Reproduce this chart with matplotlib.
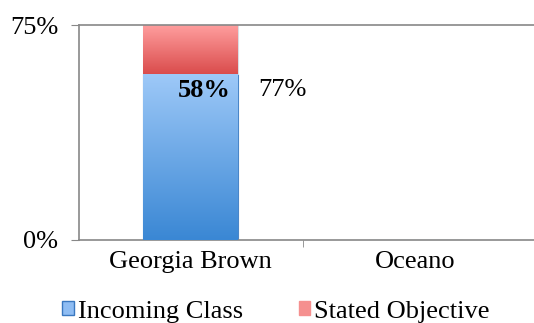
import matplotlib.pyplot as plt
import numpy as np
from matplotlib.colors import LinearSegmentedColormap
from matplotlib.patches import Patch

schools = ["Georgia Brown", "Oceano"]
incoming = [58, 0]
objective = [19, 0]
totals = [77, None]

plt.rcParams['font.family'] = ['Liberation Serif', 'DejaVu Serif']

fig = plt.figure(figsize=(5.34, 3.23), dpi=100)
ax = fig.add_axes([79 / 534, 1 - 240 / 323, 455 / 534, 215 / 323])

x = np.arange(len(schools))
blue_bars = ax.bar(x, incoming, width=0.42, color="#7fb3ee", edgecolor="#4a86c8", linewidth=0.8, zorder=2)
red_bars = ax.bar(x, objective, bottom=incoming, width=0.42, color="#f08080", edgecolor="#d9dde3",
                  linewidth=0.8, zorder=2)

ax.set_xlim(-0.496, 1.527)
ax.set_ylim(0, 75)

# gradients clipped to each bar (and to the axes top)
blue_cmap = LinearSegmentedColormap.from_list("b", ["#3a87d4", "#9ec9f8"])
red_cmap = LinearSegmentedColormap.from_list("r", ["#da4c4c", "#ff9e9e"])
grad = np.linspace(0, 1, 256).reshape(-1, 1)
ytop = ax.get_ylim()[1]
for bars, cmap in [(blue_bars, blue_cmap), (red_bars, red_cmap)]:
    for b in bars:
        if b.get_height() == 0:
            continue
        x0, y0 = b.get_x(), b.get_y()
        y1 = min(y0 + b.get_height(), ytop)
        im = ax.imshow(grad, cmap=cmap, origin="lower", aspect="auto",
                       extent=[x0, x0 + b.get_width(), y0, y1], zorder=3)
        im.set_clip_path(b)
ax.set_xlim(-0.496, 1.527)
ax.set_ylim(0, 75)

ax.set_yticks([0, 75])
ax.set_yticklabels(["0%", "75%"], fontsize=19)
ax.set_xticks(x)
ax.set_xticklabels(schools, fontsize=19)
ax.set_xticks([0.5], minor=True)
ax.tick_params(axis="x", which="major", length=0, pad=8)
ax.tick_params(axis="x", which="minor", length=5, color="#888888")
ax.tick_params(axis="y", length=6, color="#888888", pad=9)

for side in ["top", "right"]:
    ax.spines[side].set_visible(False)
for side in ["left", "bottom"]:
    ax.spines[side].set_color("#888888")
    ax.spines[side].set_linewidth(1.2)
ax.axhline(75, color="#888888", linewidth=1.2, clip_on=False, zorder=4)

# labels
ax.text(0.18, incoming[0] - 1.8, f"{incoming[0]}%", ha="right", va="top", fontsize=19,
        fontweight="bold", zorder=5)
ax.text(0.30, incoming[0] - 1.8, f"{totals[0]}%", ha="left", va="top", fontsize=19, zorder=5)

handles = [Patch(facecolor="#8fbdf3", edgecolor="#3a78c0"),
           Patch(facecolor="#f5908f", edgecolor="#f5908f")]
fig.legend(handles, ["Incoming Class", "Stated Objective"], loc="center", bbox_to_anchor=(0.517, 0.035),
           ncol=2, frameon=False, fontsize=19, handlelength=0.45, handleheight=0.45, handletextpad=0.15,
           columnspacing=2.1)

fig.savefig("out.png", dpi=100)
